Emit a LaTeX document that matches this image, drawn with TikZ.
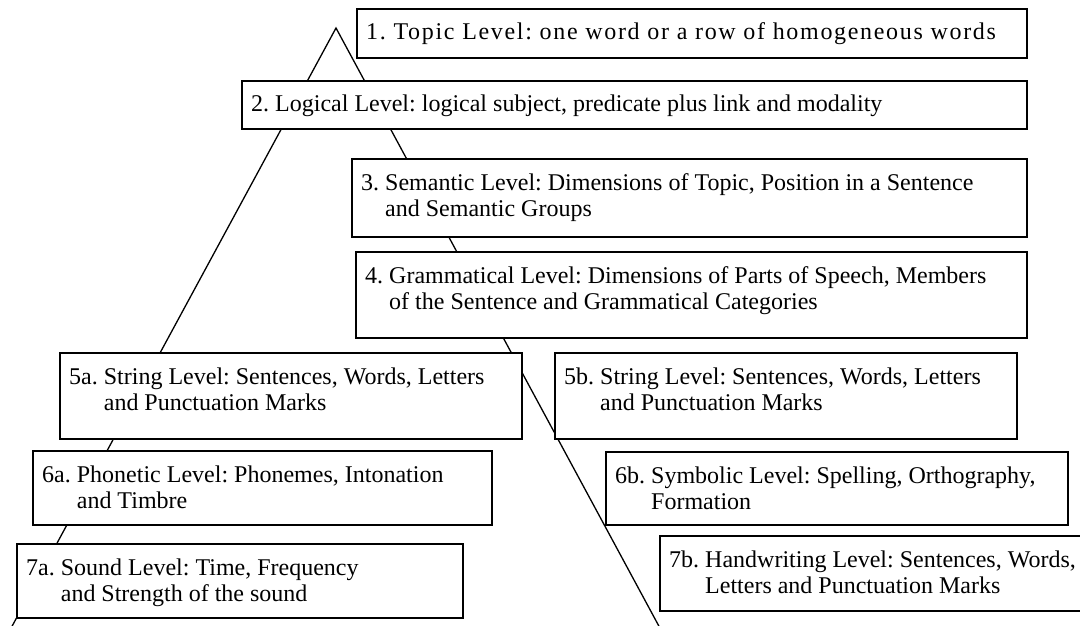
\documentclass[tikz,border=0pt]{standalone}
\usepackage{fontspec}
\setmainfont{Liberation Serif}
\newcommand{\lvltwo}[3]{\begin{tabular}[t]{@{}l@{\ }l@{}}#1&#2\\&#3\end{tabular}}
\begin{document}
\begin{tikzpicture}[x=1pt, y=-1pt,
  lvlbox/.style={draw, line width=1.6pt, fill=white, anchor=north west, inner sep=0pt, outer sep=0pt},
  lvltext/.style={anchor=base west, inner sep=0pt, font=\fontsize{24}{26.5}\selectfont\frenchspacing},
  side/.style={line width=1.3pt}]
\clip (0,0) rectangle (1080,626);
% pyramid sides
\coordinate (apex) at (336,28);
\coordinate (lbase) at (10,630);
\coordinate (rbase) at (661,630);
\draw[side] (lbase) -- (apex) -- (rbase);
% level boxes
\node[lvlbox, minimum width=670pt, minimum height=49pt] (topic) at (357,9) {};
\node[lvlbox, minimum width=785pt, minimum height=48pt] (logic) at (242,81) {};
\node[lvlbox, minimum width=675pt, minimum height=78pt] (sem) at (352,159) {};
\node[lvlbox, minimum width=671pt, minimum height=86pt] (gram) at (356,252) {};
\node[lvlbox, minimum width=462pt, minimum height=86pt] (stra) at (60,353) {};
\node[lvlbox, minimum width=462pt, minimum height=86pt] (strb) at (555,353) {};
\node[lvlbox, minimum width=459pt, minimum height=74pt] (phon) at (33,451) {};
\node[lvlbox, minimum width=462pt, minimum height=73pt] (symb) at (606,452) {};
\node[lvlbox, minimum width=446pt, minimum height=74pt] (snd) at (17,544) {};
\node[lvlbox, minimum width=440pt, minimum height=75pt] (hand) at (660,536) {};
% texts
\node[lvltext] (topictxt) at ([xshift=9pt,yshift=-31pt]topic.north west) {\addfontfeature{LetterSpace=7}1. Topic Level: one word or a row of homogeneous words};
\node[lvltext] (logictxt) at ([xshift=9pt,yshift=-31pt]logic.north west) {2. Logical Level: logical subject, predicate plus link and modality};
\node[lvltext] (semtxt) at ([xshift=9pt,yshift=-31pt]sem.north west) {\lvltwo{3.}{Semantic Level: Dimensions of Topic, Position in a Sentence}{and Semantic Groups}};
\node[lvltext] (gramtxt) at ([xshift=9pt,yshift=-31pt]gram.north west) {\lvltwo{4.}{Grammatical Level: Dimensions of Parts of Speech, Members}{of the Sentence and Grammatical Categories}};
\node[lvltext] (stratxt) at ([xshift=9pt,yshift=-31pt]stra.north west) {\lvltwo{5a.}{String Level: Sentences, Words, Letters}{and Punctuation Marks}};
\node[lvltext] (strbtxt) at ([xshift=9pt,yshift=-31pt]strb.north west) {\lvltwo{5b.}{String Level: Sentences, Words, Letters}{and Punctuation Marks}};
\node[lvltext] (phontxt) at ([xshift=9pt,yshift=-31pt]phon.north west) {\lvltwo{6a.}{Phonetic Level: Phonemes, Intonation}{and Timbre}};
\node[lvltext] (symbtxt) at ([xshift=9pt,yshift=-31pt]symb.north west) {\lvltwo{6b.}{Symbolic Level: Spelling, Orthography,}{Formation}};
\node[lvltext] (sndtxt) at ([xshift=9pt,yshift=-31pt]snd.north west) {\lvltwo{7a.}{Sound Level: Time, Frequency}{and Strength of the sound}};
\node[lvltext] (handtxt) at ([xshift=9pt,yshift=-31pt]hand.north west) {\lvltwo{7b.}{Handwriting Level: Sentences, Words,}{Letters and Punctuation Marks}};
\end{tikzpicture}
\end{document}
